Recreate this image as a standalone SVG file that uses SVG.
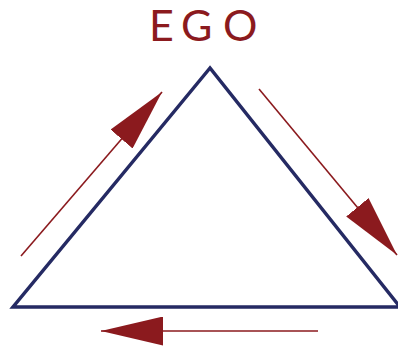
<svg xmlns="http://www.w3.org/2000/svg" width="398" height="347" viewBox="0 0 398 347">
<style>
.tri{fill:none;stroke:#252A63;stroke-width:3.5;stroke-linejoin:miter}
.arr{stroke:#8B1A1E;stroke-width:1.6;fill:none}
.lbl{font-family:Lato,"Liberation Sans",sans-serif;font-size:43px;fill:#8B1A1E}
</style>
<defs>
<marker id="head" markerUnits="userSpaceOnUse" markerWidth="62" markerHeight="29" refX="62" refY="14.5" orient="auto" viewBox="0 0 62 29">
<path d="M0,0 L62,14.5 L0,29 z" fill="#8B1A1E"/>
</marker>
</defs>
<g id="ego">
<text class="lbl" x="149 181 223" y="41">EGO</text>
</g>
<g id="triangle">
<path class="tri" d="M210,68 L13,307 L400,307 Z"/>
</g>
<g id="connectors">
<line class="arr" x1="21" y1="256" x2="162" y2="92" marker-end="url(#head)"/>
<line class="arr" x1="259" y1="89" x2="397" y2="255" marker-end="url(#head)"/>
<line class="arr" x1="318" y1="331" x2="101" y2="331" marker-end="url(#head)"/>
</g>
</svg>
